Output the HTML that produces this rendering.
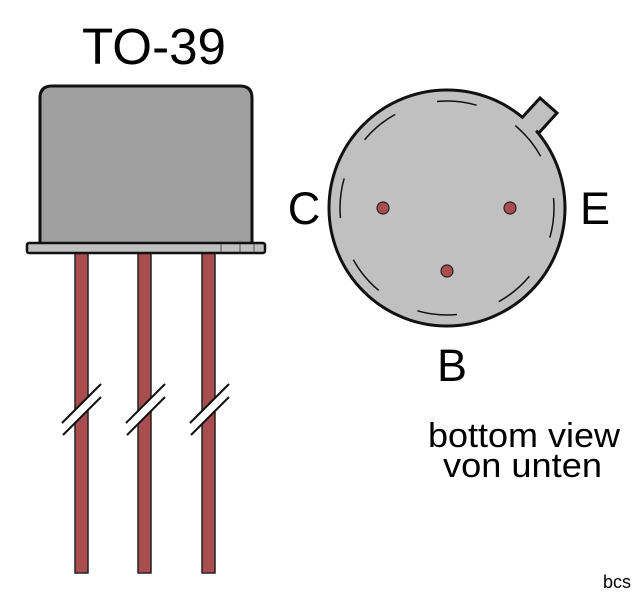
<!DOCTYPE html>
<html><head><style>html,body{margin:0;padding:0;background:#fff;}svg{display:block}</style></head>
<body>
<svg width="640" height="601" viewBox="0 0 640 601" xmlns="http://www.w3.org/2000/svg" font-family="Liberation Sans, sans-serif">
<text x="154" y="64" font-size="51" text-anchor="middle" textLength="144" lengthAdjust="spacingAndGlyphs">TO-39</text>
<!-- leads -->
<g fill="#a94d4e" stroke="#222" stroke-width="1.5">
<rect x="75" y="250" width="13" height="323"/>
<rect x="138" y="250" width="13" height="323"/>
<rect x="202" y="250" width="13" height="323"/>
</g>
<!-- breaks -->
<g>
<polygon points="62,423 101,384 101,397 63,435" fill="#fff"/>
<polygon points="126,423 165,384 165,397 127,435" fill="#fff"/>
<polygon points="190,423 229,384 229,397 191,435" fill="#fff"/>
<g stroke="#111" stroke-width="2">
<line x1="62" y1="423" x2="101" y2="384"/><line x1="63" y1="435" x2="101" y2="397"/>
<line x1="126" y1="423" x2="165" y2="384"/><line x1="127" y1="435" x2="165" y2="397"/>
<line x1="190" y1="423" x2="229" y2="384"/><line x1="191" y1="435" x2="229" y2="397"/>
</g></g>
<!-- body -->
<path d="M40,244 L40,98 Q40,86 52,86 L240,86 Q252,86 252,98 L252,244 Z" fill="#a0a0a0" stroke="#111" stroke-width="3"/>
<rect x="27" y="243" width="238" height="10" rx="2" fill="#c0c0c0" stroke="#111" stroke-width="2.5"/>
<g stroke="#555" stroke-width="1"><line x1="221" y1="244" x2="221" y2="252"/><line x1="240" y1="244" x2="240" y2="252"/><line x1="254" y1="244" x2="254" y2="252"/></g>
<!-- bottom view -->
<polygon points="520,120 540,98 557,113 537,135" fill="#c0c0c0" stroke="#111" stroke-width="3"/>
<circle cx="447" cy="208" r="118" fill="#c0c0c0" stroke="#111" stroke-width="3"/>
<polygon points="518,124 536,105 550,116 533,134" fill="#c0c0c0"/>
<circle cx="447" cy="208" r="107" fill="none" stroke="#111" stroke-width="1.5" stroke-dasharray="40 44" stroke-dashoffset="10"/>
<g fill="#a94d4e" stroke="#222" stroke-width="1.2">
<circle cx="383" cy="208" r="6"/><circle cx="510" cy="208" r="6"/><circle cx="447" cy="271" r="6"/>
</g>
<text x="304" y="224" font-size="45" text-anchor="middle">C</text>
<text x="595" y="224" font-size="45" text-anchor="middle">E</text>
<text x="452" y="381" font-size="45" text-anchor="middle">B</text>
<text x="428" y="447" font-size="34" textLength="192" lengthAdjust="spacingAndGlyphs">bottom view</text>
<text x="443" y="477" font-size="34" textLength="159" lengthAdjust="spacingAndGlyphs">von unten</text>
<text x="617" y="588" font-size="18" text-anchor="middle">bcs</text>
</svg>
</body></html>
